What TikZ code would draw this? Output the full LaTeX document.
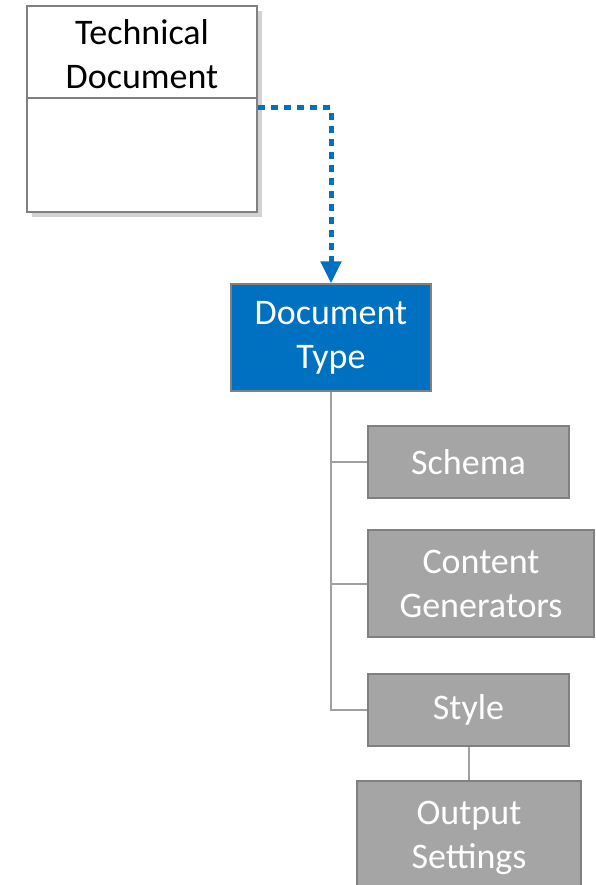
\documentclass[tikz,border=0pt]{standalone}
\usepackage{fontspec}
\setmainfont{Carlito}
\usepackage{tikz}
\usetikzlibrary{arrows.meta,shadows}

\definecolor{docblue}{RGB}{0,112,192}
\definecolor{boxgray}{RGB}{165,165,165}
\definecolor{edgegray}{RGB}{128,128,128}
\definecolor{treegray}{RGB}{160,160,160}

\begin{document}
\begin{tikzpicture}[x=1pt,y=-1pt,
	txt/.style={font=\fontsize{36}{44}\selectfont,align=center,inner sep=0pt},
	classbox/.style={draw=edgegray,line width=2pt,fill=white,minimum width=230pt,minimum height=206pt,
		drop shadow={shadow xshift=5pt,shadow yshift=-5pt,fill=black!35}},
	typebox/.style={txt,draw=edgegray,line width=1.5pt,fill=docblue,text=white,minimum width=200pt,minimum height=107pt},
	partbox/.style={txt,draw=edgegray,line width=1.5pt,fill=boxgray,text=white,minimum height=72pt},
	link/.style={draw=docblue,line width=5pt,dash pattern=on 7pt off 6pt,-{Triangle[length=22pt,width=20pt]}},
	branch/.style={draw=treegray,line width=2pt}]

	\useasboundingbox (0,0) rectangle (595,885);

	\node[classbox] (tech) at (142,109) {};
	\node[txt] (techname) at (142,54) {Technical\\Document};
	\draw[edgegray,line width=2pt] (tech.west |- 0,98) -- (tech.east |- 0,98);

	\node[typebox] (doctype) at (331,337.5) {Document\\Type};

	\node[partbox,minimum width=201pt] (schema) at (468.5,462) {Schema};
	\node[partbox,minimum width=226pt,minimum height=107pt] (content) at (481,583.5) {Content\\Generators};
	\node[partbox,minimum width=201pt] (style) at (468.5,710) {Style};
	\node[partbox,minimum width=224pt,minimum height=114pt] (output) at (469,838) {Output\\Settings};

	\path[link] (tech.east |- 0,108) -| (doctype.north);

	\path[branch] (doctype.south) |- (style.west);
	\path[branch] (doctype.south |- schema.west) -- (schema.west);
	\path[branch] (doctype.south |- content.west) -- (content.west);
	\path[branch] (style.south) -- (style.south |- output.north);

\end{tikzpicture}
\end{document}
